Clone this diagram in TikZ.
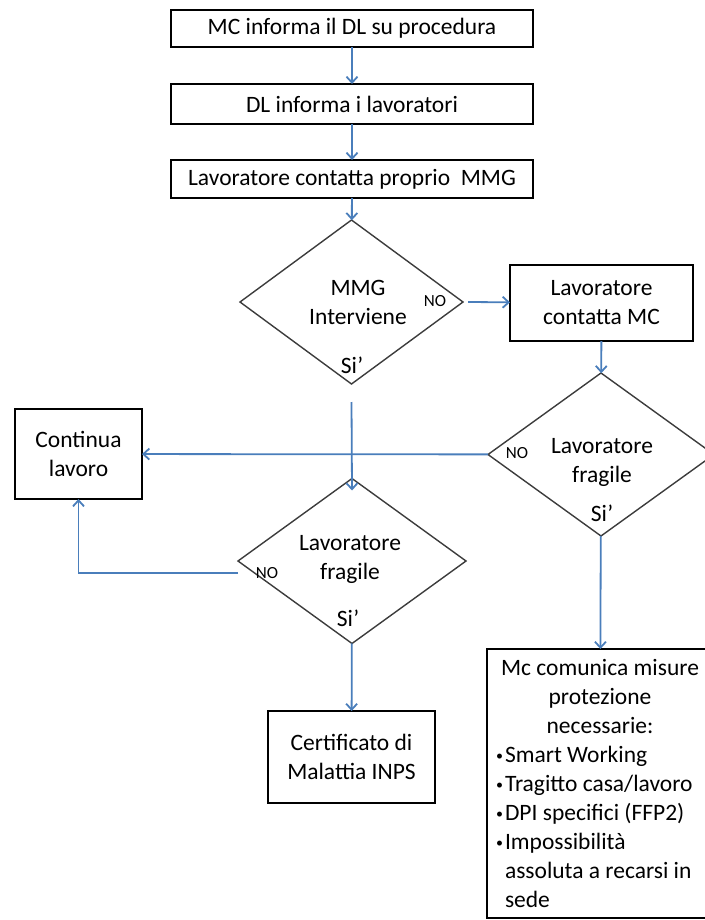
\documentclass[tikz,border=0pt]{standalone}
\usepackage{fontspec}
\setmainfont{Carlito}
\usetikzlibrary{shapes.geometric}
\usetikzlibrary{arrows.meta}
\definecolor{linkblue}{HTML}{4A7EBB}
\definecolor{edgegray}{HTML}{3C3C3C}
\tikzset{
  box/.style={draw=black, line width=1.8pt, rectangle, inner sep=0pt, outer sep=0pt, align=center, font=\fontsize{23.5}{29}\selectfont},
  choice/.style={draw=edgegray, line width=1.4pt, diamond, inner sep=0pt, outer sep=0pt},
  txt/.style={align=center, inner sep=0pt, font=\fontsize{23.5}{29}\selectfont},
  answer/.style={inner sep=0pt, font=\fontsize{17}{19}\selectfont},
  link/.style={draw=linkblue, line width=1.8pt, -{Straight Barb[length=6pt,width=11pt]}}
}
\newcommand{\pt}{\makebox[9pt][l]{\raisebox{2pt}{\fontsize{14}{14}\selectfont •}}}

\begin{document}
\begin{tikzpicture}[x=1pt,y=-1pt]
        \useasboundingbox (0,0) rectangle (704,920);
        % boxes
        \node[box, minimum width=362pt, minimum height=37pt] (b1) at (352,28.5) {MC informa il DL su procedura};
        \node[box, minimum width=362pt, minimum height=40pt] (b2) at (352,104) {DL informa i lavoratori};
        \node[box, minimum width=362pt, minimum height=38pt] (b3) at (352,179) {Lavoratore contatta proprio\ \ MMG};
        \node[box, minimum width=183pt, minimum height=76pt] (mc) at (601.5,303) {Lavoratore\\contatta MC};
        \node[box, minimum width=127pt, minimum height=90pt] (cont) at (78.5,454) {Continua\\lavoro};
        \node[box, minimum width=167pt, minimum height=92pt] (cert) at (351.5,757) {Certificato di\\Malattia INPS};
        \node[box, minimum width=226pt, minimum height=269pt, text width=208pt, align=flush left] (misure) at (600,783.5) {%
          {\centering Mc comunica misure\par protezione\par necessarie:\par}
          \hangindent=9pt\hangafter=1 \pt Smart Working\par
          \hangindent=9pt\hangafter=1 \pt Tragitto casa/lavoro\par
          \hangindent=9pt\hangafter=1 \pt DPI specifici (FFP2)\par
          \hangindent=9pt\hangafter=1 \pt Impossibilità\newline assoluta a recarsi in\newline sede\par};
        % diamonds
        \node[choice, minimum width=223pt, minimum height=164pt] (d1) at (351.5,302) {};
        \node[choice, minimum width=226pt, minimum height=163pt] (d2) at (601,454.5) {};
        \node[choice, minimum width=228pt, minimum height=165pt] (d3) at (352,561) {};
        \node[txt] (d1t) at (358,302.5) {MMG\\Interviene};
        \node[answer] (d1no) at (435,301) {NO};
        \node[txt] (d1si) at (352,365) {Si’};
        \node[txt] (d2t) at (602,462) {Lavoratore\\fragile};
        \node[answer] (d2no) at (517,453) {NO};
        \node[txt] (d2si) at (602,513) {Si’};
        \node[txt] (d3t) at (350,559) {Lavoratore\\fragile};
        \node[answer] (d3no) at (267,573) {NO};
        \node[txt] (d3si) at (348,618) {Si’};
        % connectors
        \draw[link] (b1) -- (b2);
        \draw[link] (b2) -- (b3);
        \draw[link] (b3) -- (d1);
        \draw[link] ([xshift=5pt]d1.east) -- (mc);
        \draw[link] (mc) -- (d2);
        \draw[link] (d2) -- (cont);
        \draw[link] ([yshift=-18pt]d1.south) -- ([yshift=-12pt]d3.north);
        \draw[link] ([yshift=-12pt]d3.west) -| (cont);
        \draw[link] (d3) -- (cert);
        \draw[link] (d2) -- (misure);
    \end{tikzpicture}
\end{document}
